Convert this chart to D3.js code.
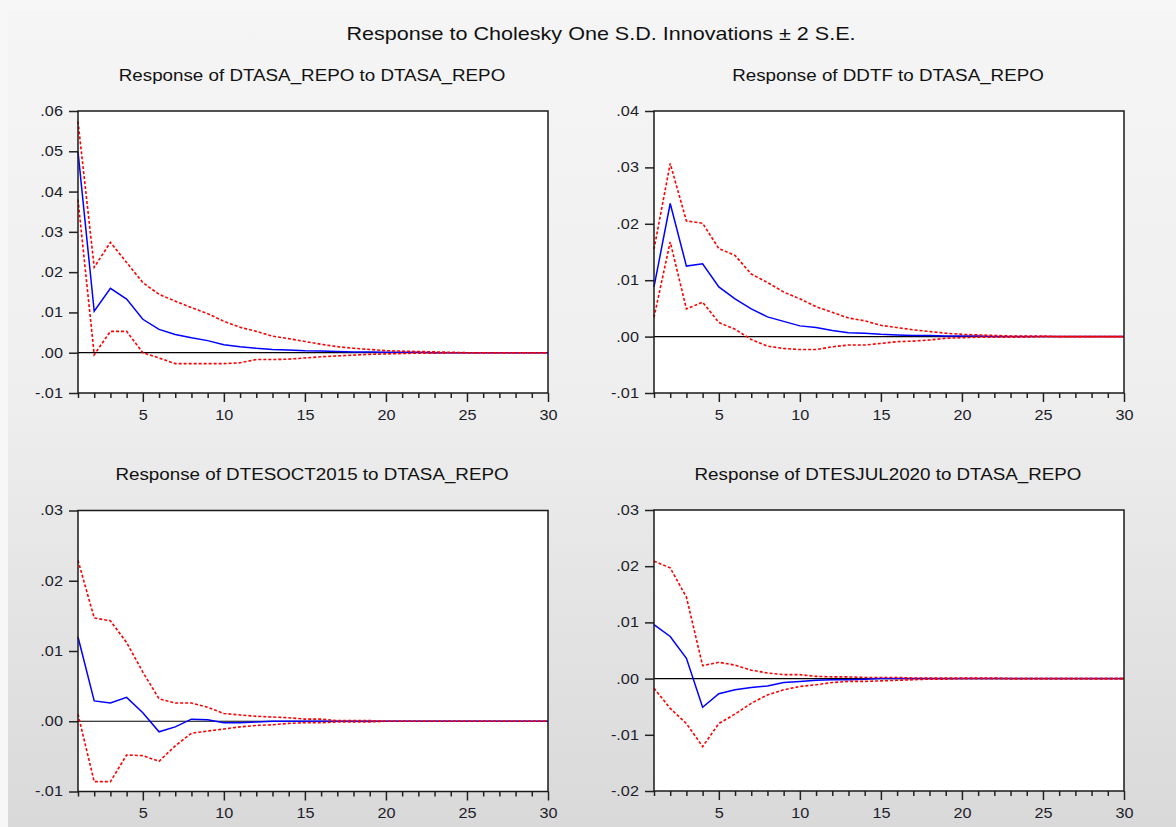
<!DOCTYPE html>
<html>
<head>
<meta charset="utf-8">
<script src="https://cdn.jsdelivr.net/npm/d3@7.9.0/dist/d3.min.js"></script>
<style>
  html, body { margin: 0; padding: 0; background: #f6f6f6; }
  svg { display: block; font-family: "Liberation Sans", Arial, sans-serif; }
</style>
</head>
<body>
<svg id="chart" width="1176" height="827"></svg>
<script>
// ---------- data ----------
const steps = d3.range(1, 31);

const mainTitle = "Response to Cholesky One S.D. Innovations \u00b1 2 S.E.";
const panelTitles = [
  "Response of DTASA_REPO to DTASA_REPO",
  "Response of DDTF to DTASA_REPO",
  "Response of DTESOCT2015 to DTASA_REPO",
  "Response of DTESJUL2020 to DTASA_REPO"
];
const yDomains = [[-0.01, 0.06], [-0.01, 0.04], [-0.01, 0.03], [-0.02, 0.03]];
const xTickLabels = [5, 10, 15, 20, 25, 30];

// DTASA_REPO -> DTASA_REPO
const resp1  = [0.0499, 0.0103, 0.0160, 0.0133, 0.0083, 0.0058, 0.0045, 0.0037, 0.0030, 0.0020, 0.0015, 0.0011, 0.0008, 0.0007, 0.0005, 0.0004, 0.0003, 0.0002, 0.0002, 0.0001, 0.0001, 0.0001, 0, 0, 0, 0, 0, 0, 0, 0];
const upper1 = [0.0574, 0.0212, 0.0274, 0.0224, 0.0174, 0.0145, 0.0128, 0.0112, 0.0097, 0.0078, 0.0063, 0.0053, 0.0041, 0.0035, 0.0028, 0.0021, 0.0015, 0.0011, 0.0008, 0.0005, 0.0004, 0.0003, 0.0002, 0.0001, 0, 0, 0, 0, 0, 0];
const lower1 = [0.0380, -0.0005, 0.0053, 0.0053, 0.0000, -0.0013, -0.0027, -0.0027, -0.0027, -0.0027, -0.0025, -0.0017, -0.0017, -0.0016, -0.0013, -0.0010, -0.0008, -0.0006, -0.0004, -0.0003, -0.0002, -0.0001, -0.0001, 0, 0, 0, 0, 0, 0, 0];

// DDTF -> DTASA_REPO
const resp2  = [0.0088, 0.0236, 0.0125, 0.0129, 0.0088, 0.0067, 0.0049, 0.0035, 0.0027, 0.0019, 0.0016, 0.0011, 0.0007, 0.0006, 0.0004, 0.0003, 0.0002, 0.0002, 0.0001, 0.0001, 0.0001, 0, 0, 0, 0, 0, 0, 0, 0, 0];
const upper2 = [0.0155, 0.0307, 0.0205, 0.0201, 0.0156, 0.0144, 0.0111, 0.0096, 0.0079, 0.0067, 0.0053, 0.0043, 0.0033, 0.0028, 0.0020, 0.0016, 0.0012, 0.0009, 0.0006, 0.0004, 0.0003, 0.0002, 0.0001, 0.0001, 0.0001, 0, 0, 0, 0, 0];
const lower2 = [0.0034, 0.0168, 0.0049, 0.0061, 0.0025, 0.0013, -0.0005, -0.0017, -0.0021, -0.0023, -0.0023, -0.0018, -0.0015, -0.0015, -0.0012, -0.0009, -0.0008, -0.0006, -0.0003, -0.0002, -0.0001, -0.0001, -0.0001, -0.0001, 0, 0, 0, 0, 0, 0];

// DTESOCT2015 -> DTASA_REPO
const resp3  = [0.0120, 0.0029, 0.0026, 0.0034, 0.0012, -0.0015, -0.0008, 0.0003, 0.0002, -0.0002, -0.0002, -0.0001, 0, 0, 0, 0, 0, 0, 0, 0, 0, 0, 0, 0, 0, 0, 0, 0, 0, 0];
const upper3 = [0.0229, 0.0147, 0.0143, 0.0112, 0.0070, 0.0032, 0.0026, 0.0026, 0.0020, 0.0011, 0.0009, 0.0007, 0.0006, 0.0005, 0.0003, 0.0003, 0.0001, 0.0001, 0.0001, 0, 0, 0, 0, 0, 0, 0, 0, 0, 0, 0];
const lower3 = [0.0010, -0.0086, -0.0086, -0.0048, -0.0049, -0.0057, -0.0035, -0.0017, -0.0014, -0.0011, -0.0008, -0.0006, -0.0005, -0.0003, -0.0002, -0.0002, -0.0001, -0.0001, -0.0001, 0, 0, 0, 0, 0, 0, 0, 0, 0, 0, 0];

// DTESJUL2020 -> DTASA_REPO
const resp4  = [0.0096, 0.0075, 0.0036, -0.0051, -0.0027, -0.0020, -0.0016, -0.0013, -0.0007, -0.0005, -0.0003, -0.0002, -0.0002, -0.0001, 0, 0, 0, 0, 0, 0, 0, 0, 0, 0, 0, 0, 0, 0, 0, 0];
const upper4 = [0.0209, 0.0197, 0.0145, 0.0023, 0.0029, 0.0024, 0.0015, 0.0010, 0.0007, 0.0007, 0.0004, 0.0003, 0.0003, 0.0002, 0.0002, 0.0002, 0.0001, 0.0001, 0.0001, 0.0001, 0.0001, 0.0001, 0, 0, 0, 0, 0, 0, 0, 0];
const lower4 = [-0.0017, -0.0053, -0.0080, -0.0121, -0.0080, -0.0063, -0.0044, -0.0029, -0.0020, -0.0014, -0.0011, -0.0007, -0.0005, -0.0005, -0.0004, -0.0003, -0.0002, -0.0001, -0.0001, 0, 0, 0, 0, 0, 0, 0, 0, 0, 0, 0];

const responses = [resp1, resp2, resp3, resp4];
const uppers = [upper1, upper2, upper3, upper4];
const lowers = [lower1, lower2, lower3, lower4];

// ---------- layout ----------
const boxes = [
  { left: 78,  right: 548,  top: 111,   bottom: 393,   titleY: 81 },
  { left: 654, right: 1124, top: 111,   bottom: 393,   titleY: 81 },
  { left: 78,  right: 548,  top: 510.5, bottom: 791.5, titleY: 480 },
  { left: 654, right: 1124, top: 510,   bottom: 791,   titleY: 480 }
];
// the source image is a little stretched sideways
const SX = 1.16;

const svg = d3.select("#chart");

// background gradient
const defs = svg.append("defs");
const grad = defs.append("linearGradient")
  .attr("id", "bg").attr("x1", 0).attr("x2", 0).attr("y1", 0).attr("y2", 1);
grad.append("stop").attr("offset", "0%").attr("stop-color", "#f5f5f5");
grad.append("stop").attr("offset", "45%").attr("stop-color", "#efefef");
grad.append("stop").attr("offset", "100%").attr("stop-color", "#d9d9d9");

svg.append("rect").attr("width", 1176).attr("height", 827).attr("fill", "#f7f7f7");
svg.append("rect").attr("x", 8).attr("y", 10).attr("width", 1168).attr("height", 817).attr("fill", "url(#bg)");

svg.append("text")
  .attr("transform", `translate(601,40) scale(${SX},1)`)
  .attr("text-anchor", "middle")
  .style("font-size", "18.6px")
  .style("fill", "#111")
  .text(mainTitle);

// EViews style: ".05", "-.01" with a plain hyphen
const fmtY = v => d3.format(".2f")(v).replace("\u2212", "-").replace("0.", ".");

boxes.forEach((b, i) => {
  const x = d3.scaleLinear().domain([1, 30]).range([b.left, b.right]);
  const y = d3.scaleLinear().domain(yDomains[i]).range([b.bottom, b.top]);
  const g = svg.append("g");

  // plot area
  g.append("rect")
    .attr("x", b.left).attr("y", b.top)
    .attr("width", b.right - b.left).attr("height", b.bottom - b.top)
    .attr("fill", "#fff");

  svg.append("text")
    .attr("transform", `translate(${(b.left + b.right) / 2 - 1},${b.titleY}) scale(${SX},1)`)
    .attr("text-anchor", "middle")
    .style("font-size", "16.2px")
    .style("fill", "#111")
    .text(panelTitles[i]);

  // y axis
  const yTicks = d3.range(Math.round(yDomains[i][0] * 100), Math.round(yDomains[i][1] * 100) + 1).map(d => d / 100);
  const yAxis = g.append("g")
    .attr("transform", `translate(${b.left},0)`)
    .call(d3.axisLeft(y).tickValues(yTicks).tickFormat(fmtY).tickSize(9).tickPadding(4));
  yAxis.select(".domain").remove();
  yAxis.selectAll("line").attr("stroke", "#222").attr("stroke-width", 1.5);
  yAxis.selectAll("text")
    .attr("transform", `scale(${SX},1)`)
    .style("font-size", "14px").style("fill", "#1d1d2a")
    .style("font-family", "'Liberation Sans', Arial, sans-serif");

  // x axis: minor ticks every step, longer at multiples of 5
  const xAxis = g.append("g")
    .attr("transform", `translate(0,${b.bottom})`)
    .call(d3.axisBottom(x).tickValues(steps).tickSize(5)
      .tickFormat(d => xTickLabels.includes(d) ? d : ""));
  xAxis.select(".domain").remove();
  xAxis.selectAll(".tick line")
    .attr("y2", d => xTickLabels.includes(d) ? 9 : 5)
    .attr("stroke", "#222").attr("stroke-width", 1.5);
  xAxis.selectAll("text")
    .attr("y", 17)
    .attr("transform", `scale(${SX},1)`)
    .style("font-size", "14px").style("fill", "#1d1d2a")
    .style("font-family", "'Liberation Sans', Arial, sans-serif");

  // zero line
  g.append("line")
    .attr("x1", b.left).attr("x2", b.right)
    .attr("y1", y(0)).attr("y2", y(0))
    .attr("stroke", "#000").attr("stroke-width", 1.2);

  const line = d3.line().x((d, k) => x(steps[k])).y(d => y(d));

  g.append("path")
    .attr("d", line(responses[i]))
    .attr("fill", "none").attr("stroke", "#0000ff").attr("stroke-width", 1.5);

  [uppers[i], lowers[i]].forEach(series => {
    g.append("path")
      .attr("d", line(series))
      .attr("fill", "none").attr("stroke", "#ff0000")
      .attr("stroke-width", 1.6).attr("stroke-dasharray", "3,2");
  });

  // frame
  g.append("rect")
    .attr("x", b.left).attr("y", b.top)
    .attr("width", b.right - b.left).attr("height", b.bottom - b.top)
    .attr("fill", "none").attr("stroke", "#1a1a1a").attr("stroke-width", 1.5);
});
</script>
</body>
</html>
